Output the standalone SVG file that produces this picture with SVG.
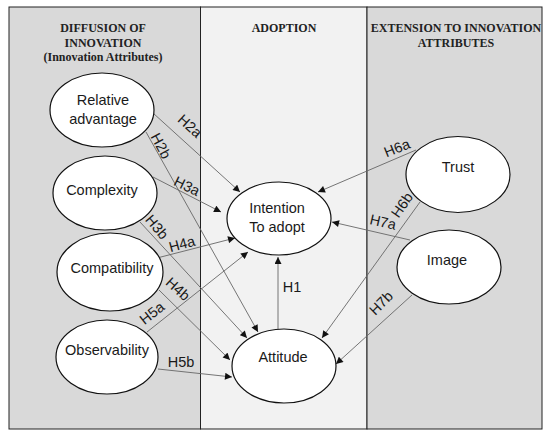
<svg xmlns="http://www.w3.org/2000/svg" width="550" height="438" viewBox="0 0 550 438">
<defs>
<style>
.panel{stroke:#222;stroke-width:1}
.hdr{font-family:"Liberation Serif",serif;font-weight:bold;font-size:12px;fill:#222;text-anchor:middle}
.node{fill:#fff;stroke:#111;stroke-width:1.2}
.nt{font-family:"Liberation Sans",Arial,sans-serif;font-size:14.5px;fill:#1a1a1a;text-anchor:middle}
.lbl{font-family:"Liberation Sans",Arial,sans-serif;font-size:14.5px;fill:#1a1a1a;text-anchor:middle;dominant-baseline:central}
.edge{stroke:#666;stroke-width:0.9;fill:none;marker-end:url(#ah)}
</style>
<marker id="ah" viewBox="0 0 10 10" refX="10" refY="5" markerWidth="8" markerHeight="7" markerUnits="userSpaceOnUse" orient="auto">
<path d="M0,0 L10,5 L0,10 z" fill="#111"/>
</marker>
</defs>
<rect width="550" height="438" fill="#fff"/>
<g id="panels">
<rect class="panel" x="9" y="7" width="191.5" height="422" fill="#d9d9d9"/>
<rect class="panel" x="200.5" y="7" width="166.5" height="422" fill="#f2f2f2"/>
<rect class="panel" x="367" y="7" width="175" height="422" fill="#d9d9d9"/>
<text class="hdr" x="103" y="32">DIFFUSION OF</text>
<text class="hdr" x="103" y="46.5">INNOVATION</text>
<text class="hdr" x="103" y="61">(Innovation Attributes)</text>
<text class="hdr" x="284" y="32">ADOPTION</text>
<text class="hdr" x="456" y="32">EXTENSION TO INNOVATION</text>
<text class="hdr" x="456" y="46.5">ATTRIBUTES</text>
</g>
<g id="connectors">
<line class="edge" x1="153" y1="113" x2="240" y2="192"/>
<line class="edge" x1="146" y1="132" x2="258" y2="332"/>
<line class="edge" x1="153" y1="177" x2="221" y2="212"/>
<line class="edge" x1="140" y1="222" x2="247" y2="338"/>
<line class="edge" x1="157" y1="258" x2="235" y2="238"/>
<line class="edge" x1="159" y1="290" x2="230" y2="360"/>
<line class="edge" x1="147" y1="332" x2="248" y2="252"/>
<line class="edge" x1="158" y1="369" x2="232" y2="377"/>
<line class="edge" x1="278" y1="329" x2="278" y2="257"/>
<line class="edge" x1="416" y1="150" x2="318" y2="192"/>
<line class="edge" x1="420" y1="202" x2="322" y2="338"/>
<line class="edge" x1="410" y1="240" x2="332" y2="222"/>
<line class="edge" x1="412" y1="295" x2="336" y2="364"/>
<text class="lbl" transform="translate(190,126) rotate(42)">H2a</text>
<text class="lbl" transform="translate(161,146) rotate(62)">H2b</text>
<text class="lbl" transform="translate(187,186) rotate(26)">H3a</text>
<text class="lbl" transform="translate(157,227) rotate(50)">H3b</text>
<text class="lbl" transform="translate(182,244) rotate(-15)">H4a</text>
<text class="lbl" transform="translate(178,289) rotate(42)">H4b</text>
<text class="lbl" transform="translate(152,313) rotate(-38)">H5a</text>
<text class="lbl" x="181" y="362">H5b</text>
<text class="lbl" x="292" y="287">H1</text>
<text class="lbl" transform="translate(397,148) rotate(-22)">H6a</text>
<text class="lbl" transform="translate(402,205) rotate(-55)">H6b</text>
<text class="lbl" transform="translate(383,222) rotate(13)">H7a</text>
<text class="lbl" transform="translate(381,303) rotate(-45)">H7b</text>
</g>
<g id="relative-advantage">
<ellipse class="node" cx="102" cy="110" rx="52" ry="37"/>
<text class="nt" x="103" y="105">Relative</text>
<text class="nt" x="103" y="124">advantage</text>
</g>
<g id="complexity">
<ellipse class="node" cx="105" cy="193" rx="52" ry="37"/>
<text class="nt" x="102" y="195">Complexity</text>
</g>
<g id="compatibility">
<ellipse class="node" cx="110" cy="272" rx="53" ry="39"/>
<text class="nt" x="112" y="273">Compatibility</text>
</g>
<g id="observability">
<ellipse class="node" cx="107" cy="357" rx="51" ry="37"/>
<text class="nt" x="107" y="355">Observability</text>
</g>
<g id="intention">
<ellipse class="node" cx="279" cy="218.5" rx="52" ry="36.5"/>
<text class="nt" x="277" y="213">Intention</text>
<text class="nt" x="277" y="232">To adopt</text>
</g>
<g id="attitude">
<ellipse class="node" cx="284" cy="366" rx="52" ry="37"/>
<text class="nt" x="283" y="362">Attitude</text>
</g>
<g id="trust">
<ellipse class="node" cx="458" cy="174.5" rx="52" ry="38"/>
<text class="nt" x="458" y="172">Trust</text>
</g>
<g id="image">
<ellipse class="node" cx="449" cy="267" rx="52" ry="37"/>
<text class="nt" x="447" y="265">Image</text>
</g>
</svg>
